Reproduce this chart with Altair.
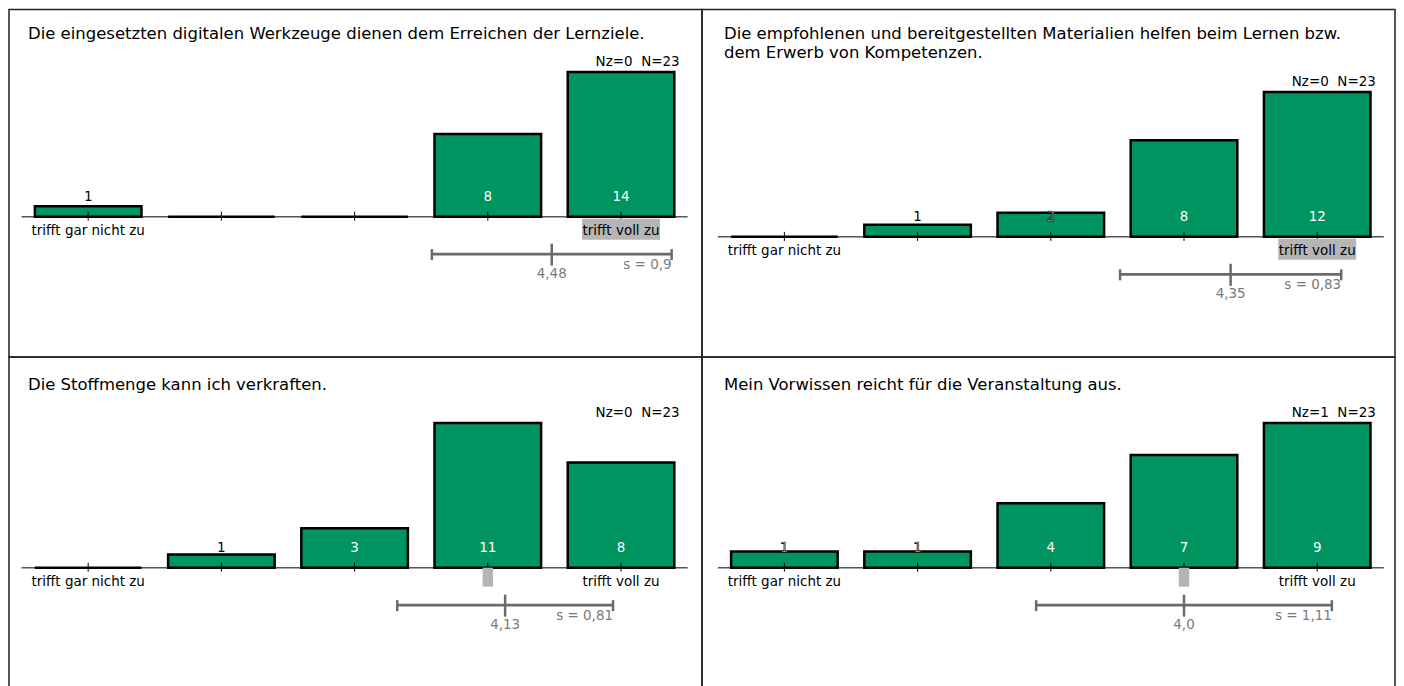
import altair as alt
import pandas as pd

# ---------------- data ----------------
titles = [
    "Die eingesetzten digitalen Werkzeuge dienen dem Erreichen der Lernziele.",
    "Die empfohlenen und bereitgestellten Materialien helfen beim Lernen bzw.\ndem Erwerb von Kompetenzen.",
    "Die Stoffmenge kann ich verkraften.",
    "Mein Vorwissen reicht für die Veranstaltung aus.",
]
categories = [1, 2, 3, 4, 5]
scale_labels = ["trifft gar nicht zu", "", "", "", "trifft voll zu"]
counts = [
    [1, 0, 0, 8, 14],
    [0, 1, 2, 8, 12],
    [0, 1, 3, 11, 8],
    [1, 1, 4, 7, 9],
]
nz = [0, 0, 0, 1]
n_total = [23, 23, 23, 23]
means = [4.48, 4.35, 4.13, 4.0]
sds = [0.9, 0.83, 0.81, 1.11]
medians = [5, 5, 4, 4]

# ---------------- style / layout ----------------
FONT = "DejaVu Sans"
GREEN = "#009460"
ERR = "#6b6b6b"
ERRTXT = "#7a7a7a"
GRAY = "#b5b5b5"
PPU = 133.4      # pixels per category step
BAR_H = 145      # pixel height of the tallest bar
layout = [
    dict(w=694, h=348, c1=79.3, yb=207.5, tx=19, ty=29.5),
    dict(w=694, h=348, c1=82.5, yb=227.7, tx=22, ty=29.5),
    dict(w=694, h=340, c1=79.3, yb=211.0, tx=19, ty=33.5),
    dict(w=694, h=340, c1=82.5, yb=211.0, tx=22, ty=33.5),
]


def fmt(v):
    return str(v).replace(".", ",")


def panel(i):
    L = layout[i]
    cnt = counts[i]
    mx = max(cnt)
    k = BAR_H / mx
    yb, H, W = L["yb"], L["h"], L["w"]
    x_lo = 1 - L["c1"] / PPU
    x_hi = x_lo + W / PPU
    xs = alt.Scale(domain=[x_lo, x_hi], nice=False, zero=False)
    ys = alt.Scale(domain=[(yb - H) / k, yb / k], nice=False, zero=False)

    df = pd.DataFrame({"cat": categories, "n": cnt, "lab": scale_labels})
    hpx = [v * k for v in cnt]
    df["fillc"] = ["black" if h < 15 else "white" for h in hpx]
    df["strokec"] = ["black" if 15 <= h <= 27 else "transparent" for h in hpx]

    title = alt.Chart(pd.DataFrame({"t": [titles[i]]})).mark_text(
        font=FONT, fontSize=16.5, align="left", baseline="alphabetic",
        lineBreak="\n", lineHeight=19, color="black"
    ).encode(x=alt.value(L["tx"]), y=alt.value(L["ty"]), text="t:N")

    base_line = alt.Chart(pd.DataFrame({"a": [0]})).mark_rule(
        color="#555555", strokeWidth=1.5
    ).encode(
        x=alt.XDatum(0.5, scale=xs, axis=None),
        x2=alt.X2Datum(5.5),
        y=alt.value(yb),
    )

    bars = alt.Chart(df).transform_calculate(
        xl="datum.cat - 0.4", xr="datum.cat + 0.4"
    ).mark_rect(fill=GREEN, stroke="black", strokeWidth=2.5).encode(
        x=alt.X("xl:Q", scale=xs, axis=None),
        x2="xr:Q",
        y=alt.Y("n:Q", scale=ys, axis=None),
        y2=alt.Y2Datum(0),
    )

    ticks = alt.Chart(df).mark_rule(color="black", strokeWidth=1).encode(
        x=alt.X("cat:Q", scale=xs, axis=None),
        y=alt.value(yb - 5),
        y2=alt.value(yb + 4),
    )

    is_end = medians[i] in (1, 5)
    hw = (39 if is_end else 5.25) / PPU
    g0 = yb + (2 if is_end else 0)
    g1 = yb + (23 if is_end else 19)
    gray = alt.Chart(pd.DataFrame({"med": [medians[i]]})).transform_calculate(
        a=f"datum.med - {hw}", b=f"datum.med + {hw}"
    ).mark_rect(color=GRAY).encode(
        x=alt.X("a:Q", scale=xs, axis=None), x2="b:Q",
        y=alt.value(g0), y2=alt.value(g1),
    )

    cat_labels = alt.Chart(df).transform_filter("datum.lab != ''").mark_text(
        font=FONT, fontSize=13.5, color="black", align="center", baseline="middle"
    ).encode(
        x=alt.X("cat:Q", scale=xs, axis=None), y=alt.value(yb + 14), text="lab:N"
    )

    val_labels = alt.Chart(df).transform_filter("datum.n > 0").mark_text(
        font=FONT, fontSize=13.5, align="center", baseline="middle", strokeWidth=0.7
    ).encode(
        x=alt.X("cat:Q", scale=xs, axis=None),
        y=alt.value(yb - 20),
        text="n:Q",
        color=alt.Color("fillc:N", scale=None),
        stroke=alt.Stroke("strokec:N", scale=None),
    )

    ndf = pd.DataFrame({"n": [mx], "t": [f"Nz={nz[i]}\u00a0\u00a0N={n_total[i]}"]})
    n_label = alt.Chart(ndf).mark_text(
        font=FONT, fontSize=13.5, color="black", align="right", baseline="middle", dy=-10
    ).encode(
        x=alt.XDatum(5.44, scale=xs, axis=None),
        y=alt.Y("n:Q", scale=ys, axis=None),
        text="t:N",
    )

    ye = yb + 37.5
    edf = pd.DataFrame({
        "m": [means[i]], "s": [sds[i]],
        "ml": [fmt(means[i])], "sl": ["s = " + fmt(sds[i])],
    })
    eb = alt.Chart(edf).transform_calculate(lo="datum.m - datum.s", hi="datum.m + datum.s")
    e_line = eb.mark_rule(color=ERR, strokeWidth=2.7).encode(
        x=alt.X("lo:Q", scale=xs, axis=None), x2="hi:Q", y=alt.value(ye)
    )
    cap_l = eb.mark_rule(color=ERR, strokeWidth=2.5).encode(
        x=alt.X("lo:Q", scale=xs, axis=None), y=alt.value(ye - 5), y2=alt.value(ye + 6)
    )
    cap_r = eb.mark_rule(color=ERR, strokeWidth=2.5).encode(
        x=alt.X("hi:Q", scale=xs, axis=None), y=alt.value(ye - 5), y2=alt.value(ye + 6)
    )
    m_tick = eb.mark_rule(color=ERR, strokeWidth=2.5).encode(
        x=alt.X("m:Q", scale=xs, axis=None), y=alt.value(ye - 10.5), y2=alt.value(ye + 11.5)
    )
    m_label = eb.mark_text(
        font=FONT, fontSize=13.5, color=ERRTXT, align="center", baseline="middle"
    ).encode(x=alt.X("m:Q", scale=xs, axis=None), y=alt.value(ye + 20), text="ml:N")
    s_label = eb.mark_text(
        font=FONT, fontSize=13.5, color=ERRTXT, align="right", baseline="middle"
    ).encode(x=alt.X("hi:Q", scale=xs, axis=None), y=alt.value(ye + 11), text="sl:N")

    return alt.layer(
        title, base_line, bars, ticks, gray, cat_labels, val_labels, n_label,
        e_line, cap_l, cap_r, m_tick, m_label, s_label,
    ).properties(width=W, height=H)


chart = alt.concat(
    panel(0), panel(1), panel(2), panel(3),
    columns=2, spacing=0, bounds="flush", padding=0,
).configure_view(stroke="#222222", strokeWidth=1.5)

chart.save("out.html", embed_options={"renderer": "svg", "actions": False})
